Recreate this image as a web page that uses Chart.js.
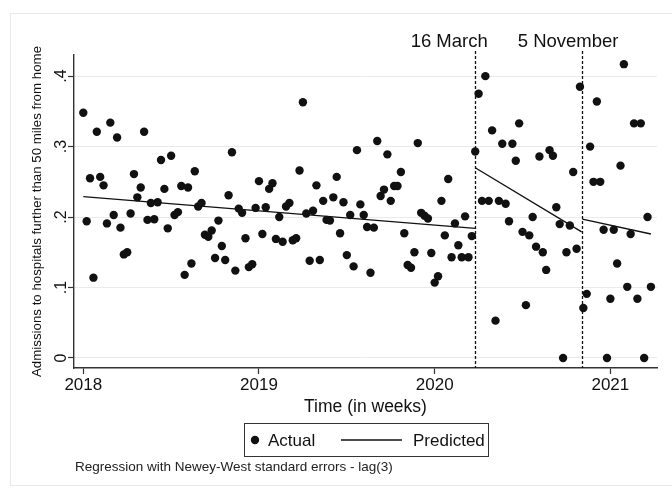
<!DOCTYPE html>
<html>
<head>
<meta charset="utf-8">
<script src="https://cdn.jsdelivr.net/npm/chart.js@4.4.1/dist/chart.umd.min.js"></script>
<style>
html, body { margin: 0; padding: 0; background: #fff; }
#wrap { width: 672px; height: 491px; }
</style>
</head>
<body>
<div id="wrap"><canvas id="chart" width="672" height="491"></canvas></div>
<script>
// weekly share of admissions, 2018w1 onwards (one value per week)
const actual = [
  0.348, 0.194, 0.255, 0.114, 0.321, 0.257, 0.245, 0.191, 0.334, 0.203,
  0.313, 0.185, 0.147, 0.150, 0.205, 0.261, 0.228, 0.242, 0.321, 0.196,
  0.220, 0.197, 0.221, 0.281, 0.240, 0.184, 0.287, 0.203, 0.207, 0.244,
  0.118, 0.242, 0.134, 0.265, 0.215, 0.220, 0.175, 0.172, 0.181, 0.142,
  0.195, 0.159, 0.139, 0.231, 0.292, 0.124, 0.212, 0.206, 0.170, 0.129,
  0.133, 0.213, 0.251, 0.176, 0.214, 0.240, 0.248, 0.169, 0.200, 0.165,
  0.215, 0.220, 0.167, 0.170, 0.266, 0.363, 0.205, 0.138, 0.209, 0.245,
  0.139, 0.223, 0.196, 0.195, 0.228, 0.257, 0.177, 0.221, 0.146, 0.203,
  0.130, 0.295, 0.218, 0.203, 0.186, 0.121, 0.185, 0.308, 0.230, 0.239,
  0.289, 0.223, 0.244, 0.244, 0.264, 0.177, 0.132, 0.128, 0.150, 0.305,
  0.206, 0.202, 0.198, 0.149, 0.107, 0.116, 0.223, 0.174, 0.254, 0.143,
  0.191, 0.160, 0.143, 0.201, 0.143, 0.173, 0.293, 0.375, 0.223, 0.400,
  0.223, 0.323, 0.053, 0.223, 0.304, 0.219, 0.194, 0.304, 0.280, 0.333,
  0.179, 0.075, 0.174, 0.200, 0.158, 0.286, 0.150, 0.125, 0.295, 0.287,
  0.214, 0.190, 0.000, 0.150, 0.188, 0.264, 0.155, 0.385, 0.071, 0.091,
  0.300, 0.250, 0.364, 0.250, 0.182, 0.000, 0.084, 0.182, 0.134, 0.273,
  0.417, 0.101, 0.176, 0.333, 0.084, 0.333, 0.000, 0.200, 0.101
];

// fitted segments (start/end week, start/end value)
const predWeeks = [[0, 116], [116, 147.5], [147.7, 168]];
const predValues = [[0.229, 0.184], [0.270, 0.179], [0.197, 0.176]];

const yearTicks = [0, 52, 104, 156];
const yearLabels = ['2018', '2019', '2020', '2021'];
const yTicks = [0, 0.1, 0.2, 0.3, 0.4];
const yLabels = ['0', '.1', '.2', '.3', '.4'];

const eventWeeks = [115.9, 147.7];
const eventLabels = ['16 March', '5 November'];
const eventLabelWeeks = [108.3, 143.5];

const FONT = "'Liberation Sans', Arial, sans-serif";
const INK = '#111';
const AXIS = '#333';

const decor = {
  id: 'decor',
  beforeDraw(chart) {
    const ctx = chart.ctx;
    ctx.save();
    ctx.strokeStyle = '#e3ebee';
    ctx.lineWidth = 1;
    ctx.strokeRect(10.5, 13.5, 700, 472);
    ctx.restore();
  },
  beforeDatasetsDraw(chart) {
    const { ctx, chartArea, scales: { x } } = chart;
    ctx.save();
    ctx.strokeStyle = INK;
    ctx.lineWidth = 1.3;
    ctx.setLineDash([3, 2]);
    eventWeeks.forEach(w => {
      const px = Math.round(x.getPixelForValue(w)) + 0.5;
      ctx.beginPath();
      ctx.moveTo(px, chartArea.top - 4);
      ctx.lineTo(px, chartArea.bottom);
      ctx.stroke();
    });
    ctx.setLineDash([]);
    ctx.fillStyle = INK;
    ctx.font = `18.5px ${FONT}`;
    ctx.textAlign = 'center';
    ctx.textBaseline = 'alphabetic';
    eventLabels.forEach((t, i) => ctx.fillText(t, x.getPixelForValue(eventLabelWeeks[i]), 47));
    ctx.restore();
  },
  afterDraw(chart) {
    const ctx = chart.ctx;
    const top = chart.scales.x.bottom + 5;
    ctx.save();
    // legend box
    ctx.strokeStyle = AXIS;
    ctx.lineWidth = 1;
    ctx.strokeRect(244.5, top + 0.5, 244, 33);
    const cy = top + 17;
    ctx.fillStyle = INK;
    ctx.beginPath();
    ctx.arc(255, cy, 4.2, 0, Math.PI * 2);
    ctx.fill();
    ctx.strokeStyle = INK;
    ctx.lineWidth = 1.4;
    ctx.beginPath();
    ctx.moveTo(341, cy);
    ctx.lineTo(402, cy);
    ctx.stroke();
    ctx.font = `17px ${FONT}`;
    ctx.textAlign = 'left';
    ctx.textBaseline = 'middle';
    ctx.fillText('Actual', 268, cy + 1);
    ctx.fillText('Predicted', 413, cy + 1);
    // note
    ctx.font = `13.5px ${FONT}`;
    ctx.fillStyle = '#222';
    ctx.textBaseline = 'alphabetic';
    ctx.fillText('Regression with Newey-West standard errors - lag(3)', 75, top + 48);
    ctx.restore();
  }
};

const datasets = [{
  label: 'Actual',
  data: actual.map((v, i) => ({ x: i, y: v })),
  pointRadius: 4.2,
  pointHoverRadius: 4.2,
  pointBackgroundColor: INK,
  pointBorderColor: INK,
  pointBorderWidth: 0,
  showLine: false
}];
predWeeks.forEach((w, i) => {
  datasets.push({
    label: 'Predicted',
    data: w.map((wk, j) => ({ x: wk, y: predValues[i][j] })),
    showLine: true,
    borderColor: INK,
    borderWidth: 1.4,
    pointRadius: 0,
    fill: false
  });
});

new Chart(document.getElementById('chart'), {
  type: 'scatter',
  data: { datasets },
  plugins: [decor],
  options: {
    responsive: false,
    animation: false,
    devicePixelRatio: 1,
    layout: { padding: { left: 0, top: 55, right: 15, bottom: 73 } },
    plugins: { legend: { display: false }, tooltip: { enabled: false } },
    scales: {
      x: {
        type: 'linear',
        min: -2.75,
        max: 169.8,
        afterBuildTicks: s => { s.ticks = yearTicks.map(v => ({ value: v })); },
        afterFit: s => { s.height = 50; },
        ticks: {
          callback: v => yearLabels[yearTicks.indexOf(v)],
          font: { family: FONT, size: 17 },
          color: INK,
          padding: 1,
          maxRotation: 0,
          autoSkip: false
        },
        grid: { drawOnChartArea: false, tickLength: 6, tickColor: AXIS, tickWidth: 1.2 },
        border: { color: AXIS, width: 1.4 },
        title: {
          display: true,
          text: 'Time (in weeks)',
          font: { family: FONT, size: 17.5 },
          color: INK,
          padding: { top: 0, bottom: 0 }
        }
      },
      y: {
        min: -0.0142,
        max: 0.43,
        afterBuildTicks: s => { s.ticks = yTicks.map(v => ({ value: v })); },
        afterFit: s => { s.width = 74; },
        ticks: {
          callback: v => yLabels[yTicks.findIndex(t => Math.abs(t - v) < 1e-6)],
          font: { family: FONT, size: 16 },
          color: INK,
          minRotation: 90,
          maxRotation: 90,
          crossAlign: 'center',
          padding: 0
        },
        grid: { color: '#e4ecef', lineWidth: 1, tickLength: 6, tickColor: AXIS, tickWidth: 1.2 },
        border: { color: AXIS, width: 1.4 },
        title: {
          display: true,
          text: 'Admissions to hospitals further than 50 miles from home',
          font: { family: FONT, size: 13.3 },
          color: INK,
          padding: { top: 29, bottom: 0 }
        }
      }
    }
  }
});
</script>
</body>
</html>
